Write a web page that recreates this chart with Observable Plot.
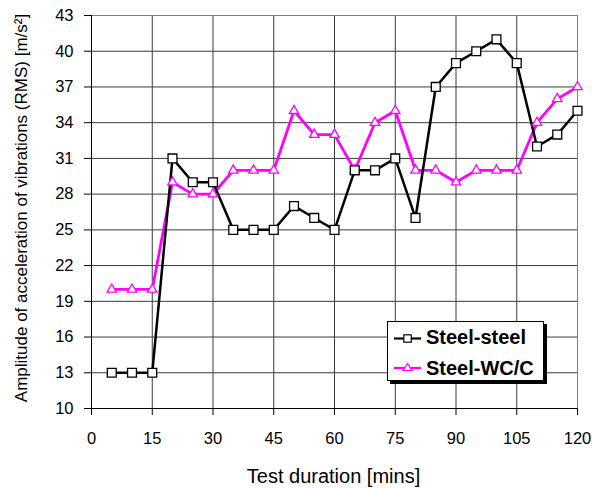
<!DOCTYPE html>
<html>
<head>
<meta charset="utf-8">
<script src="https://cdn.jsdelivr.net/npm/d3@7"></script>
<script src="https://cdn.jsdelivr.net/npm/@observablehq/plot@0.6"></script>
<style>
  html, body { margin: 0; padding: 0; background: white; }
  #wrap { position: relative; width: 592px; height: 488px; overflow: hidden; }
  #legend {
    position: absolute; left: 387px; top: 321px; width: 155px; height: 58px;
    background: white; border: 1px solid #000; box-shadow: 3px 3px 0 #000;
  }
  #legend svg { position: absolute; left: 0; top: 0; }
  #legend text { font-family: "Liberation Sans", Arial, sans-serif; font-weight: bold; font-size: 20px; }
</style>
</head>
<body>
<div id="wrap">
  <div id="chart"></div>
  <div id="legend"></div>
</div>
<script>
const minutes = [5, 10, 15, 20, 25, 30, 35, 40, 45, 50, 55, 60, 65, 70, 75, 80, 85, 90, 95, 100, 105, 110, 115, 120];
const steelSteel = [13, 13, 13, 31, 29, 29, 25, 25, 25, 27, 26, 25, 30, 30, 31, 26, 37, 39, 40, 41, 39, 32, 33, 35];
const steelWCC = [20, 20, 20, 29, 28, 28, 30, 30, 30, 35, 33, 33, 30, 34, 35, 30, 30, 29, 30, 30, 30, 34, 36, 37];
const seriesNames = ["Steel-steel", "Steel-WC/C"];
const seriesColors = ["#000000", "#ff00ff"];
const xTicks = [0, 15, 30, 45, 60, 75, 90, 105, 120];
const yTicks = [10, 13, 16, 19, 22, 25, 28, 31, 34, 37, 40, 43];
const xTitle = "Test duration [mins]";
const yTitle = "Amplitude of acceleration of vibrations (RMS) [m/s²]";

const rows = [];
minutes.forEach((m, i) => rows.push({minute: m, value: steelSteel[i], series: seriesNames[0]}));
minutes.forEach((m, i) => rows.push({minute: m, value: steelWCC[i], series: seriesNames[1]}));
const s1 = rows.filter(d => d.series === seriesNames[0]);
const s2 = rows.filter(d => d.series === seriesNames[1]);

const chart = Plot.plot({
  width: 592,
  height: 488,
  marginLeft: 91,
  marginRight: 15,
  marginTop: 15,
  marginBottom: 80,
  style: {fontFamily: "'Liberation Sans', Arial, sans-serif", fontSize: "16.5px", color: "#000", background: "white", overflow: "visible"},
  x: {domain: [0, 120]},
  y: {domain: [10, 43]},
  marks: [
    Plot.gridX(xTicks, {stroke: "#3a3a3a", strokeOpacity: 1, strokeWidth: 1}),
    Plot.gridY(yTicks, {stroke: "#3a3a3a", strokeOpacity: 1, strokeWidth: 1}),
    Plot.frame({stroke: "#808080"}),
    Plot.ruleY([10], {stroke: "#000"}),
    Plot.ruleX([0], {stroke: "#000"}),
    Plot.axisX(xTicks, {tickSize: 7, tickPadding: 17, label: null, fontSize: 16.5}),
    Plot.axisY(yTicks, {tickSize: 7, tickPadding: 11, label: null, fontSize: 16.5}),
    Plot.text([xTitle], {frameAnchor: "bottom", dx: -1, dy: 68, fontSize: 20, lineAnchor: "middle", textAnchor: "middle"}),
    Plot.text([yTitle], {frameAnchor: "left", dx: -70, dy: -4, rotate: -90, fontSize: 17, lineAnchor: "middle", textAnchor: "middle"}),
    Plot.line(s2, {x: "minute", y: "value", stroke: seriesColors[1], strokeWidth: 2.8}),
    Plot.line(s1, {x: "minute", y: "value", stroke: seriesColors[0], strokeWidth: 2.5}),
    Plot.dot(s2, {x: "minute", y: "value", symbol: "triangle", r: 3.5, fill: "white", stroke: seriesColors[1], strokeWidth: 1.3}),
    Plot.dot(s1, {x: "minute", y: "value", symbol: "square", r: 5, fill: "white", stroke: seriesColors[0], strokeWidth: 1.3})
  ]
});
document.getElementById("chart").appendChild(chart);

// legend
const legend = document.getElementById("legend");
const rowY = [16.5, 46];
const baseY = [21.5, 53];
let svg = `<svg width="155" height="58">`;
seriesNames.forEach((name, i) => {
  const y = rowY[i];
  svg += `<line x1="6" x2="33" y1="${y}" y2="${y}" stroke="${seriesColors[i]}" stroke-width="2.2"/>`;
  if (i === 0) {
    svg += `<rect x="15.8" y="${y - 3.7}" width="7.4" height="7.4" fill="white" stroke="${seriesColors[i]}" stroke-width="1.2"/>`;
  } else {
    svg += `<path d="M19.5,${y - 4.5} L24,${y + 2.5} L15,${y + 2.5} Z" fill="white" stroke="${seriesColors[i]}" stroke-width="1.2"/>`;
  }
  svg += `<text x="38" y="${baseY[i]}">${name}</text>`;
});
svg += `</svg>`;
legend.innerHTML = svg;
</script>
</body>
</html>
